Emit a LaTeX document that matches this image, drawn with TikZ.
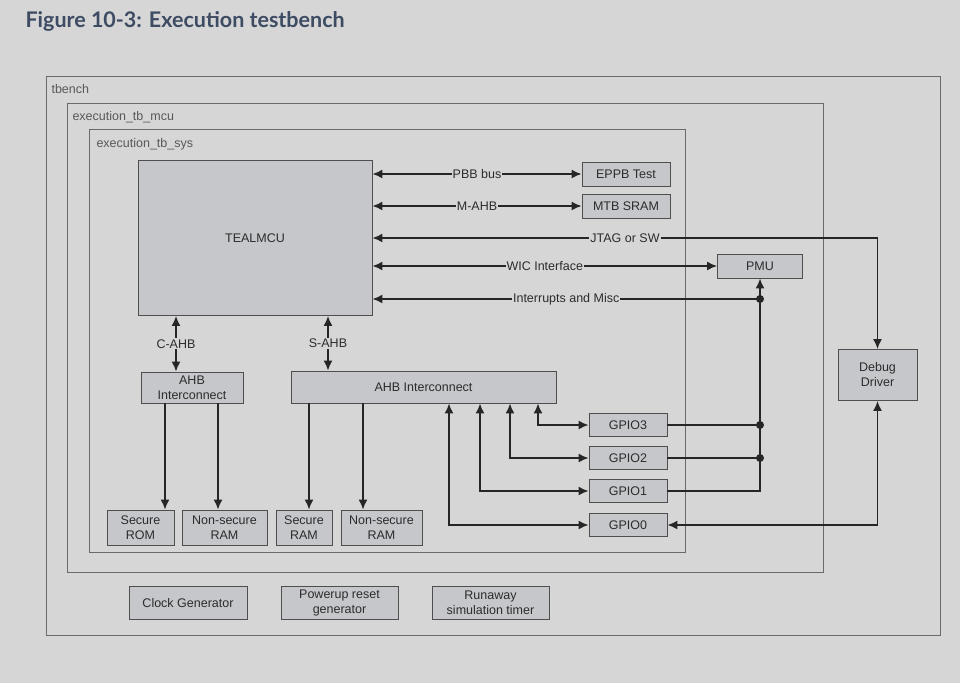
\documentclass[tikz,border=0pt]{standalone}
\usepackage{fontspec}
\setmainfont{Liberation Sans}
\newfontfamily\titlefont{Lato}
\usetikzlibrary{positioning,arrows.meta}

\definecolor{paper}{HTML}{D6D6D6}
\definecolor{blockfill}{HTML}{C6C7CB}
\definecolor{blockline}{HTML}{4E4E4E}
\definecolor{frameline}{HTML}{6A6A6A}
\definecolor{inktext}{HTML}{2C2C2C}
\definecolor{titleblue}{HTML}{3D4B63}

\tikzset{
	benchpicture/.style = {
		x = 1pt,
		y = -1pt,
		font = \fontsize{12.5}{15}\selectfont,
		text = inktext,
		node distance = 33pt,
		bus/.style = {
			draw = black!85,
			line width = 1.6pt,
			> = {Latex[length=10pt, width=9pt]}
		}
	},
	block/.style = {
		draw = blockline,
		fill = blockfill,
		line width = 0.9pt,
		inner sep = 0pt,
		align = center
	},
	frame/.style = {
		draw = frameline,
		line width = 0.9pt
	},
	framelabel/.style = {
		anchor = base west,
		text = black!65
	},
	buslabel/.style = {
		fill = paper,
		inner sep = 1pt
	},
	junction/.style = {
		circle,
		fill = black!85,
		inner sep = 0pt,
		minimum size = 8pt
	}
}

\begin{document}
\begin{tikzpicture}[benchpicture]
	\useasboundingbox[fill = paper] (0,0) rectangle (960,683);
	\node[anchor = base west, text = titleblue, font = \titlefont\bfseries\fontsize{21.5}{26}\selectfont] (title) at (22,27) {Figure 10-3: Execution testbench};

	% nested frames
	\draw[frame] (46,76) rectangle (940,635);
	\draw[frame] (67,103) rectangle (823,572);
	\draw[frame] (89,129) rectangle (685,552);
	\node[framelabel] (tbench) at (48,93) {tbench};
	\node[framelabel] (tbmcu) at (69,120) {execution\_tb\_mcu};
	\node[framelabel] (tbsys) at (93,147) {execution\_tb\_sys};

	\node[block, minimum width = 234pt, minimum height = 155pt] (mcu) at (255,238) {TEALMCU};
	\node[block, minimum width = 88pt, minimum height = 24pt] (eppb) at (626,174) {EPPB Test};
	\node[block, minimum width = 88pt, minimum height = 24pt, below of = eppb, node distance = 32pt] (mtb) {MTB SRAM};
	\node[block, minimum width = 85pt, minimum height = 24pt] (pmu) at (760,266) {PMU};
	\node[block, minimum width = 79pt, minimum height = 51pt] (debug) at (877.5,375) {Debug\\Driver};

	\node[block, minimum width = 102pt, minimum height = 31pt] (ahbc) at (192,387.5) {AHB\\Interconnect};
	\node[block, minimum width = 265pt, minimum height = 32pt] (ahbs) at (423.5,387) {AHB Interconnect};

	\node[block, minimum width = 67pt, minimum height = 35pt] (srom) at (140.5,527.5) {Secure\\ROM};
	\node[block, minimum width = 85pt, minimum height = 35pt] (nsram) at (224.5,527.5) {Non-secure\\RAM};
	\node[block, minimum width = 56pt, minimum height = 35pt] (sram) at (304,527.5) {Secure\\RAM};
	\node[block, minimum width = 81pt, minimum height = 35pt] (nsram2) at (381.5,527.5) {Non-secure\\RAM};

	\node[block, minimum width = 78pt, minimum height = 23pt] (gpio3) at (628,425) {GPIO3};
	\node[block, minimum width = 78pt, minimum height = 23pt, below of = gpio3] (gpio2) {GPIO2};
	\node[block, minimum width = 78pt, minimum height = 23pt, below of = gpio2] (gpio1) {GPIO1};
	\node[block, minimum width = 78pt, minimum height = 23pt, below of = gpio1, node distance = 34pt] (gpio0) {GPIO0};

	\node[block, minimum width = 118pt, minimum height = 33pt] (clk) at (188,603) {Clock Generator};
	\node[block, minimum width = 117pt, minimum height = 33pt, right of = clk, node distance = 151.5pt] (por) {Powerup reset\\generator};
	\node[block, minimum width = 117pt, minimum height = 33pt, right of = por, node distance = 151pt] (runaway) {Runaway\\simulation timer};

	\coordinate (irq) at (760,299);

	\begin{scope}[every path/.style = bus]
		\path[<->] (eppb.west) -- node[buslabel] {PBB bus} (eppb.west -| mcu.east);
		\path[<->] (mtb.west) -- node[buslabel] {M-AHB} (mtb.west -| mcu.east);
		\path[<->] (debug.north) |- node[buslabel, pos = 0.75] {JTAG or SW} (mcu.east);
		\path[<->] (pmu.west) -- node[buslabel] {WIC Interface} (pmu.west -| mcu.east);
		\path[->] (irq) -- node[buslabel] {Interrupts and Misc} (irq -| mcu.east);

		\path[<->] ([xshift = -79pt]mcu.south) -- node[buslabel] {C-AHB} ([xshift = -79pt]mcu.south |- ahbc.north);
		\path[<->] ([xshift = 73pt]mcu.south) -- node[buslabel] {S-AHB} ([xshift = 73pt]mcu.south |- ahbs.north);

		\path[->] ([xshift = -27pt]ahbc.south) -- ([xshift = -27pt]ahbc.south |- srom.north);
		\path[->] ([xshift = 26pt]ahbc.south) -- ([xshift = 26pt]ahbc.south |- nsram.north);
		\path[->] ([xshift = -114.5pt]ahbs.south) -- ([xshift = -114.5pt]ahbs.south |- sram.north);
		\path[->] ([xshift = -60.5pt]ahbs.south) -- ([xshift = -60.5pt]ahbs.south |- nsram2.north);

		\path[<->] ([xshift = 114.5pt]ahbs.south) |- (gpio3.west);
		\path[<->] ([xshift = 86.5pt]ahbs.south) |- (gpio2.west);
		\path[<->] ([xshift = 56.5pt]ahbs.south) |- (gpio1.west);
		\path[<->] ([xshift = 25.5pt]ahbs.south) |- (gpio0.west);

		\path[->] (gpio1.east) -| (pmu.south);
		\path (gpio2.east) -- (gpio2.east -| pmu.south);
		\path (gpio3.east) -- (gpio3.east -| pmu.south);
		\path[<->] (debug.south) |- (gpio0.east);
	\end{scope}

	\node[junction] at (irq) {};
	\node[junction] at (gpio2.east -| pmu.south) {};
	\node[junction] at (gpio3.east -| pmu.south) {};
\end{tikzpicture}
\end{document}
